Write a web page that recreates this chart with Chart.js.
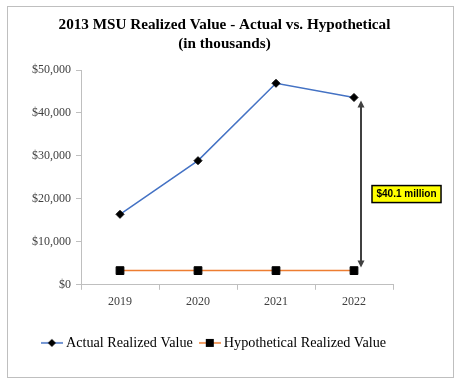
<!DOCTYPE html>
<html>
<head>
<meta charset="utf-8">
<script src="https://cdn.jsdelivr.net/npm/chart.js@4.4.1/dist/chart.umd.min.js"></script>
<style>
  html, body { margin: 0; padding: 0; background: #fff; }
  #wrap { position: relative; width: 462px; height: 384px; }
  #frame {
    position: absolute; left: 7px; top: 6px; width: 447px; height: 372px;
    box-sizing: border-box; border: 1px solid #bfbfbf; pointer-events: none;
  }
</style>
</head>
<body>
<div id="wrap">
  <canvas id="myChart" width="462" height="384"></canvas>
  <div id="frame"></div>
</div>
<script>
// chart data
const years = ["2019", "2020", "2021", "2022"];
const actualValues = [16400, 28900, 46900, 43600];
const hypotheticalValues = [3300, 3300, 3300, 3300];
const yTicks = [0, 10000, 20000, 30000, 40000, 50000];
const gapLabel = "$40.1 million";

const serif = "'Liberation Serif', 'Times New Roman', serif";

// little line + marker picture for the legend
const makeLegendIcon = (lineColor, shape) => {
  const c = document.createElement("canvas");
  c.width = 22;
  c.height = 12;
  const g = c.getContext("2d");
  g.strokeStyle = lineColor;
  g.lineWidth = 1.5;
  g.beginPath();
  g.moveTo(0, 6);
  g.lineTo(22, 6);
  g.stroke();
  g.fillStyle = "#000";
  g.beginPath();
  if (shape === "diamond") {
    g.moveTo(11, 2); g.lineTo(15, 6); g.lineTo(11, 10); g.lineTo(7, 6);
  } else {
    g.rect(7, 2, 8, 8);
  }
  g.closePath();
  g.fill();
  return c;
};

// double headed arrow + yellow label between the two 2022 points
const gapArrow = {
  id: "gapArrow",
  afterDatasetsDraw(chart) {
    const ctx = chart.ctx;
    const pA = chart.getDatasetMeta(0).data[3];
    const pH = chart.getDatasetMeta(1).data[3];
    const x = pA.x + 7;
    const top = pA.y + 3;
    const bottom = pH.y - 3;
    const head = 7;

    ctx.save();
    ctx.strokeStyle = "#404040";
    ctx.fillStyle = "#404040";
    ctx.lineWidth = 2;
    ctx.beginPath();
    ctx.moveTo(x, top + head - 1);
    ctx.lineTo(x, bottom - head + 1);
    ctx.stroke();
    ctx.beginPath();
    ctx.moveTo(x, top); ctx.lineTo(x - 3.5, top + head); ctx.lineTo(x + 3.5, top + head);
    ctx.closePath(); ctx.fill();
    ctx.beginPath();
    ctx.moveTo(x, bottom); ctx.lineTo(x - 3.5, bottom - head); ctx.lineTo(x + 3.5, bottom - head);
    ctx.closePath(); ctx.fill();

    ctx.font = "bold 10px 'Liberation Sans', Arial, sans-serif";
    const tw = ctx.measureText(gapLabel).width;
    const bw = tw + 9;
    const bh = 17;
    const bx = x + 11;
    const cy = (top + bottom) / 2 + 10;
    ctx.fillStyle = "#ffff00";
    ctx.fillRect(bx, cy - bh / 2, bw, bh);
    ctx.strokeStyle = "#000";
    ctx.lineWidth = 1.5;
    ctx.strokeRect(bx, cy - bh / 2, bw, bh);
    ctx.fillStyle = "#000";
    ctx.textAlign = "center";
    ctx.textBaseline = "middle";
    ctx.fillText(gapLabel, bx + bw / 2, cy + 0.5);
    ctx.restore();
  }
};

// the legend sits a bit left of the title in the original
const nudgeLegend = {
  id: "nudgeLegend",
  afterLayout(chart) {
    chart.legend.left -= 9;
    chart.legend.right -= 9;
  }
};

const legendIcons = [makeLegendIcon("#4472c4", "diamond"), makeLegendIcon("#ed7d31", "square")];

const ctx = document.getElementById("myChart");

new Chart(ctx, {
  type: "line",
  data: {
    labels: years,
    datasets: [{
      label: "Actual Realized Value",
      data: actualValues,
      borderColor: "#4472c4",
      borderWidth: 1.5,
      pointStyle: "rectRot",
      pointRadius: 4,
      pointBackgroundColor: "#000",
      pointBorderColor: "#000",
      pointBorderWidth: 1,
      tension: 0
    }, {
      label: "Hypothetical Realized Value",
      data: hypotheticalValues,
      borderColor: "#ed7d31",
      borderWidth: 1.5,
      pointStyle: "rect",
      pointRadius: 5.5,
      pointBackgroundColor: "#000",
      pointBorderColor: "#000",
      pointBorderWidth: 1,
      tension: 0
    }]
  },
  options: {
    responsive: false,
    animation: false,
    devicePixelRatio: 1,
    layout: {
      padding: { left: 0, right: 13, top: 6, bottom: 24 }
    },
    plugins: {
      title: {
        display: true,
        text: ["2013 MSU Realized Value - Actual vs. Hypothetical", "(in thousands)"],
        color: "#000",
        font: { family: serif, size: 15.2, weight: "bold", lineHeight: 1.25 },
        padding: { top: 10, bottom: 16 }
      },
      legend: {
        position: "bottom",
        labels: {
          color: "#000",
          font: { family: serif, size: 14.2 },
          usePointStyle: true,
          pointStyleWidth: 14,
          padding: 10,
          generateLabels: (chart) => chart.data.datasets.map((ds, i) => ({
            text: ds.label,
            pointStyle: legendIcons[i],
            fillStyle: ds.borderColor,
            strokeStyle: ds.borderColor,
            lineWidth: 0,
            hidden: false,
            datasetIndex: i
          }))
        }
      },
      tooltip: { enabled: false }
    },
    scales: {
      x: {
        type: "category",
        offset: true,
        grid: { offset: true, drawOnChartArea: false, tickLength: 5, color: "#bfbfbf" },
        border: { color: "#bfbfbf" },
        ticks: { color: "#404040", font: { family: serif, size: 12 }, padding: 5, maxRotation: 0 },
        afterFit: (s) => { s.height = 41; }
      },
      y: {
        min: 0,
        max: 50000,
        afterBuildTicks: (s) => { s.ticks = yTicks.map((v) => ({ value: v })); },
        grid: { drawOnChartArea: false, tickLength: 5, color: "#bfbfbf" },
        border: { color: "#bfbfbf" },
        ticks: {
          color: "#404040",
          font: { family: serif, size: 12 },
          padding: 5,
          callback: (v) => "$" + Number(v).toLocaleString("en-US")
        },
        afterFit: (s) => { s.width = 81; }
      },
      // empty axis that only keeps space on the right side
      yRight: {
        position: "right",
        display: true,
        grid: { display: false },
        border: { display: false },
        ticks: { display: false },
        afterFit: (s) => { s.width = 56; }
      }
    }
  },
  plugins: [gapArrow, nudgeLegend]
});
</script>
</body>
</html>
